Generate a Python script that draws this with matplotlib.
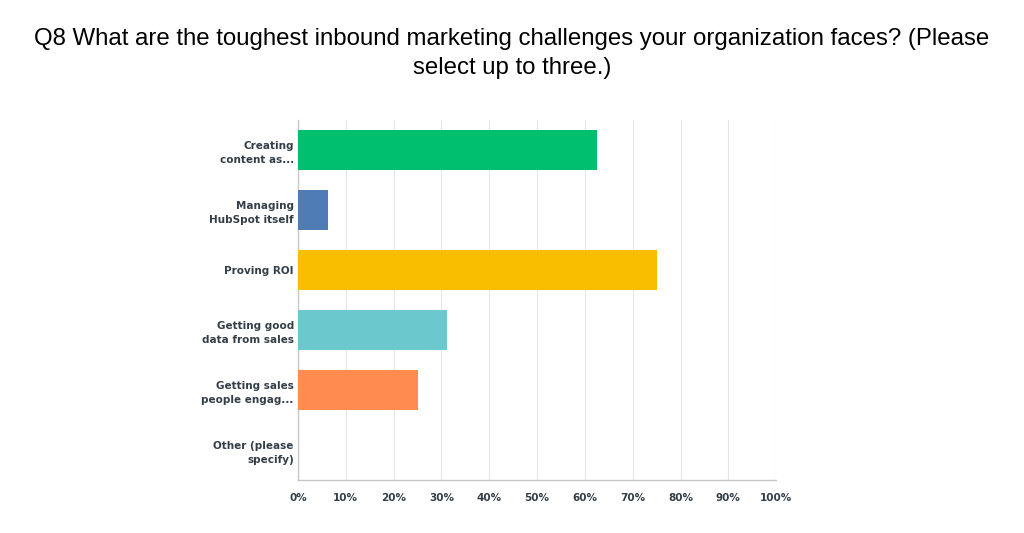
import matplotlib.pyplot as plt
import numpy as np

# Survey answers, top to bottom
categories = ['Creating\ncontent as...', 'Managing\nHubSpot itself', 'Proving ROI',
              'Getting good\ndata from sales', 'Getting sales\npeople engag...',
              'Other (please\nspecify)']
values = [62.5, 6.25, 75.0, 31.25, 25.0, 0.0]
colors = ['#00bf6f', '#507cb6', '#f9be00', '#6bc8cd', '#ff8b4f', '#c4b8ff']
ticks = list(range(0, 101, 10))
tick_labels = ['%d%%' % t for t in ticks]

fig = plt.figure(figsize=(10.24, 5.33), dpi=100)
ax = fig.add_axes([0.291, 0.0994, 0.467, 0.675])

y = np.arange(len(categories))
ax.barh(y, values, height=0.67, color=colors, zorder=3)

ax.set_xlim(0, 100)
ax.set_ylim(len(categories) - 0.5, -0.5)
ax.set_yticks(y)
ax.set_yticklabels(categories, fontsize=7.5, fontweight='bold', color='#333e48',
                   family='DejaVu Sans', linespacing=1.5)
ax.set_xticks(ticks)
ax.set_xticklabels(tick_labels, fontsize=7.5, fontweight='bold', color='#333e48',
                   family='DejaVu Sans')
ax.tick_params(axis='both', length=0)
ax.tick_params(axis='x', pad=9)
ax.tick_params(axis='y', pad=3)

ax.grid(axis='x', color='#e6e6e6', linewidth=0.8, zorder=0)
for s in ['top', 'right']:
    ax.spines[s].set_visible(False)
for s in ['left', 'bottom']:
    ax.spines[s].set_color('#c8c8c8')
    ax.spines[s].set_linewidth(1)

fig.text(0.5, 0.9, 'Q8 What are the toughest inbound marketing challenges your organization faces? (Please\nselect up to three.)',
         ha='center', va='center', fontsize=17.3, family='Liberation Sans', linespacing=1.38)

fig.savefig('out.png', dpi=100)
